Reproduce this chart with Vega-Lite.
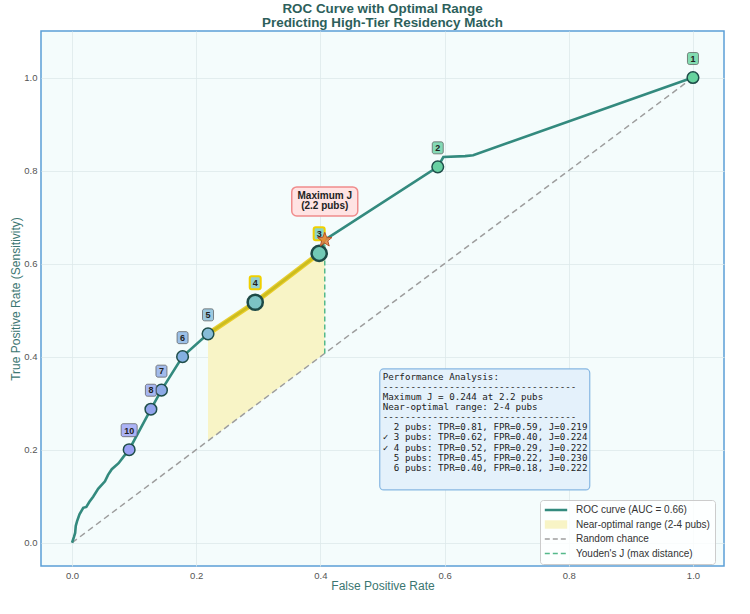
{
  "$schema": "https://vega.github.io/schema/vega-lite/v6.json",
  "width": 683,
  "height": 535,
  "autosize": {"type": "none"},
  "padding": {"left": 41, "top": 31, "right": 26, "bottom": 48},
  "background": "white",
  "title": {
    "text": ["ROC Curve with Optimal Range", "Predicting High-Tier Residency Match"],
    "font": "Liberation Sans",
    "fontSize": 13.4,
    "fontWeight": "bold",
    "color": "#2d5f5b",
    "lineHeight": 14,
    "offset": 2,
    "anchor": "middle"
  },
  "config": {
    "view": {"fill": "#f4fcfc", "stroke": "#5b9fd6", "strokeWidth": 1.5},
    "axis": {
      "grid": true,
      "gridColor": "#dde9ea",
      "gridWidth": 0.8,
      "ticks": false,
      "domain": false,
      "labelFont": "Liberation Sans",
      "labelFontSize": 9.5,
      "labelColor": "#555555",
      "labelPadding": 4,
      "titleFont": "Liberation Sans",
      "titleFontSize": 12,
      "titleFontWeight": "normal",
      "titleColor": "#3b7671"
    },
    "text": {"font": "Liberation Sans"}
  },
  "datasets": {
    "roc": [
      {"fpr": 0, "tpr": 0},
      {"fpr": 0.003, "tpr": 0.012},
      {"fpr": 0.005, "tpr": 0.021},
      {"fpr": 0.006, "tpr": 0.036},
      {"fpr": 0.008, "tpr": 0.046},
      {"fpr": 0.012, "tpr": 0.061},
      {"fpr": 0.018, "tpr": 0.075},
      {"fpr": 0.023, "tpr": 0.077},
      {"fpr": 0.028, "tpr": 0.088},
      {"fpr": 0.034, "tpr": 0.099},
      {"fpr": 0.042, "tpr": 0.116},
      {"fpr": 0.053, "tpr": 0.132},
      {"fpr": 0.058, "tpr": 0.146},
      {"fpr": 0.064, "tpr": 0.158},
      {"fpr": 0.075, "tpr": 0.171},
      {"fpr": 0.083, "tpr": 0.185},
      {"fpr": 0.092, "tpr": 0.2},
      {"fpr": 0.127, "tpr": 0.287},
      {"fpr": 0.144, "tpr": 0.328},
      {"fpr": 0.178, "tpr": 0.4},
      {"fpr": 0.219, "tpr": 0.449},
      {"fpr": 0.295, "tpr": 0.517},
      {"fpr": 0.398, "tpr": 0.622},
      {"fpr": 0.407, "tpr": 0.651},
      {"fpr": 0.589, "tpr": 0.808},
      {"fpr": 0.598, "tpr": 0.829},
      {"fpr": 0.633, "tpr": 0.831},
      {"fpr": 0.646, "tpr": 0.833},
      {"fpr": 1, "tpr": 1}
    ],
    "pts": [
      {"pubs": 1, "fpr": 1.0, "tpr": 1.0},
      {"pubs": 2, "fpr": 0.589, "tpr": 0.808},
      {"pubs": 3, "fpr": 0.398, "tpr": 0.622},
      {"pubs": 4, "fpr": 0.295, "tpr": 0.517},
      {"pubs": 5, "fpr": 0.219, "tpr": 0.449},
      {"pubs": 6, "fpr": 0.178, "tpr": 0.4},
      {"pubs": 7, "fpr": 0.144, "tpr": 0.328},
      {"pubs": 8, "fpr": 0.127, "tpr": 0.287},
      {"pubs": 10, "fpr": 0.092, "tpr": 0.2}
    ],
    "diag": [
      {"fpr": 0, "tpr": 0},
      {"fpr": 1, "tpr": 1}
    ],
    "optimum": [
      {"fpr": 0.407, "tpr": 0.651, "note": "Maximum J\n(2.2 pubs)", "perf": "Performance Analysis:\n-----------------------------------\nMaximum J = 0.244 at 2.2 pubs\nNear-optimal range: 2-4 pubs\n-----------------------------------\n\u200b\u00a0\u00a02 pubs: TPR=0.81, FPR=0.59, J=0.219\n\u2713 3 pubs: TPR=0.62, FPR=0.40, J=0.224\n\u2713 4 pubs: TPR=0.52, FPR=0.29, J=0.222\n\u200b\u00a0\u00a05 pubs: TPR=0.45, FPR=0.22, J=0.230\n\u200b\u00a0\u00a06 pubs: TPR=0.40, FPR=0.18, J=0.222"}
    ]
  },
  "encoding": {
    "x": {
      "field": "fpr",
      "type": "quantitative",
      "scale": {"domain": [-0.05, 1.05], "nice": false, "zero": false},
      "axis": {"title": "False Positive Rate", "values": [0, 0.2, 0.4, 0.6, 0.8, 1.0], "format": ".1f", "titlePadding": 1, "orient": "bottom"}
    },
    "y": {
      "field": "tpr",
      "type": "quantitative",
      "scale": {"domain": [-0.05, 1.1], "nice": false, "zero": false},
      "axis": {"title": "True Positive Rate (Sensitivity)", "values": [0, 0.2, 0.4, 0.6, 0.8, 1.0], "format": ".1f", "titlePadding": 1, "orient": "left"}
    }
  },
  "layer": [
    {
      "data": {"name": "roc"},
      "transform": [{"filter": "datum.fpr >= 0.219 && datum.fpr <= 0.407"}],
      "mark": {"type": "area", "opacity": 1},
      "encoding": {
        "y2": {"field": "fpr"},
        "color": {"datum": "Near-optimal range (2-4 pubs)"}
      }
    },
    {
      "data": {"name": "diag"},
      "mark": {"type": "line", "strokeDash": [6, 4], "strokeWidth": 1.5},
      "encoding": {"color": {"datum": "Random chance"}}
    },
    {
      "data": {"name": "roc"},
      "mark": {"type": "line", "strokeWidth": 2.6},
      "encoding": {
        "color": {
          "datum": "ROC curve (AUC = 0.66)",
          "scale": {
            "domain": ["ROC curve (AUC = 0.66)", "Near-optimal range (2-4 pubs)", "Random chance", "Youden's J (max distance)"],
            "range": ["#338a7e", "#f8f4c6", "#9e9e9e", "#55b98a"]
          },
          "legend": {
            "title": null,
            "orient": "none",
            "legendX": 499,
            "legendY": 469,
            "padding": 5,
            "rowPadding": 4.5,
            "symbolSize": 196,
            "symbolOffset": 6,
            "labelOffset": 15,
            "labelFont": "Liberation Sans",
            "labelFontSize": 10,
            "labelColor": "#333333",
            "labelLimit": 300,
            "fillColor": "rgba(255,255,255,0.8)",
            "strokeColor": "#cccccc",
            "cornerRadius": 3,
            "encode": {
              "symbols": {
                "update": {
                  "shape": {"signal": "datum.value == 'Near-optimal range (2-4 pubs)' ? 'M-1.6,-0.6H1.6V0.6H-1.6Z' : 'M-1.6,0H1.6'"},
                  "fill": {"signal": "datum.value == 'Near-optimal range (2-4 pubs)' ? '#f8f4c6' : 'transparent'"},
                  "strokeDash": {"signal": "(datum.value == 'Random chance' || datum.value == \"Youden's J (max distance)\") ? [5, 3] : [1, 0]"},
                  "strokeWidth": {"signal": "datum.value == 'ROC curve (AUC = 0.66)' ? 2.5 : (datum.value == 'Near-optimal range (2-4 pubs)' ? 0 : 1.5)"},
                  "opacity": {"value": 1}
                }
              }
            }
          }
        }
      }
    },
    {
      "data": {"name": "roc"},
      "transform": [{"filter": "datum.fpr >= 0.219 && datum.fpr <= 0.398"}],
      "mark": {"type": "line", "color": "#e6c60e", "strokeWidth": 5, "opacity": 0.85, "strokeCap": "round"}
    },
    {
      "data": {"name": "optimum"},
      "mark": {"type": "rule", "strokeDash": [5, 3], "strokeWidth": 1.5},
      "encoding": {
        "y": {"field": "fpr", "type": "quantitative"},
        "y2": {"field": "tpr"},
        "color": {"datum": "Youden's J (max distance)"}
      }
    },
    {
      "data": {"name": "pts"},
      "transform": [{"filter": "datum.pubs != 3 && datum.pubs != 4"}],
      "mark": {"type": "circle", "size": 135, "stroke": "#1f4e4a", "strokeWidth": 1.5, "opacity": 1},
      "encoding": {
        "fill": {
          "field": "pubs",
          "type": "quantitative",
          "scale": {
            "domain": [1, 2, 3, 4, 5, 6, 7, 8, 10],
            "range": ["#66d39e", "#68d0a2", "#72c9b6", "#7cc3c5", "#86bcd8", "#84b0e2", "#8daae6", "#92a4ec", "#9aa0f4"]
          },
          "legend": null
        }
      }
    },
    {
      "data": {"name": "pts"},
      "transform": [{"filter": "datum.pubs == 3 || datum.pubs == 4"}],
      "mark": {"type": "circle", "size": 230, "stroke": "#1d4a47", "strokeWidth": 2.5, "opacity": 1},
      "encoding": {"fill": {"field": "pubs", "type": "quantitative", "legend": null}}
    },
    {
      "data": {"name": "pts"},
      "transform": [{"filter": "datum.pubs < 10 && datum.pubs != 3 && datum.pubs != 4"}],
      "mark": {"type": "rect", "xOffset": -5.5, "x2Offset": 5.5, "yOffset": -25, "y2Offset": -13, "fillOpacity": 0.8, "stroke": "#555555", "strokeOpacity": 0.7, "strokeWidth": 1, "cornerRadius": 2},
      "encoding": {
        "x2": {"field": "fpr"},
        "y2": {"field": "tpr"},
        "fill": {"field": "pubs", "type": "quantitative", "legend": null}
      }
    },
    {
      "data": {"name": "pts"},
      "transform": [{"filter": "datum.pubs == 3 || datum.pubs == 4"}],
      "mark": {"type": "rect", "xOffset": -5.5, "x2Offset": 5.5, "yOffset": -26, "y2Offset": -13, "fillOpacity": 0.8, "stroke": "#f0d000", "strokeWidth": 2, "cornerRadius": 2},
      "encoding": {
        "x2": {"field": "fpr"},
        "y2": {"field": "tpr"},
        "fill": {"field": "pubs", "type": "quantitative", "legend": null}
      }
    },
    {
      "data": {"name": "pts"},
      "transform": [{"filter": "datum.pubs == 10"}],
      "mark": {"type": "rect", "xOffset": -8, "x2Offset": 8, "yOffset": -26, "y2Offset": -13, "fillOpacity": 0.8, "stroke": "#555555", "strokeOpacity": 0.7, "strokeWidth": 1, "cornerRadius": 2},
      "encoding": {
        "x2": {"field": "fpr"},
        "y2": {"field": "tpr"},
        "fill": {"field": "pubs", "type": "quantitative", "legend": null}
      }
    },
    {
      "data": {"name": "pts"},
      "mark": {"type": "text", "dy": -19, "fontSize": 9, "fontWeight": "bold", "color": "#222222", "baseline": "middle", "align": "center"},
      "encoding": {"text": {"field": "pubs", "type": "nominal"}}
    },
    {
      "data": {"name": "optimum"},
      "mark": {"type": "point", "shape": "M0,-1L0.247,-0.34L0.951,-0.309L0.399,0.13L0.588,0.809L0,0.42L-0.588,0.809L-0.399,0.13L-0.951,-0.309L-0.247,-0.34Z", "size": 230, "filled": true, "color": "#e8843a", "fillOpacity": 0.85, "stroke": "#b5532c", "strokeWidth": 1}
    },
    {
      "data": {"name": "optimum"},
      "mark": {"type": "rect", "xOffset": -33, "x2Offset": 33, "yOffset": -53, "y2Offset": -24, "fill": "#ffe3e3", "stroke": "#f08c8c", "strokeWidth": 1.5, "cornerRadius": 5},
      "encoding": {
        "x2": {"field": "fpr"},
        "y2": {"field": "tpr"}
      }
    },
    {
      "data": {"name": "optimum"},
      "mark": {"type": "text", "dy": -44, "fontSize": 10, "fontWeight": "bold", "color": "#222222", "baseline": "middle", "align": "center", "lineBreak": "\n", "lineHeight": 10.5},
      "encoding": {"text": {"field": "note", "type": "nominal"}}
    },
    {
      "data": {"name": "optimum"},
      "mark": {"type": "rect", "xOffset": 55, "x2Offset": 265, "yOffset": 129, "y2Offset": 250, "fill": "#e4f1fb", "stroke": "#86b7e2", "strokeWidth": 1.2, "cornerRadius": 4},
      "encoding": {
        "x2": {"field": "fpr"},
        "y2": {"field": "tpr"}
      }
    },
    {
      "data": {"name": "optimum"},
      "mark": {"type": "text", "dx": 58, "dy": 133, "font": "DejaVu Sans Mono", "fontSize": 9.2, "lineHeight": 10.1, "lineBreak": "\n", "align": "left", "baseline": "top", "color": "#222222"},
      "encoding": {"text": {"field": "perf", "type": "nominal"}}
    }
  ]
}
